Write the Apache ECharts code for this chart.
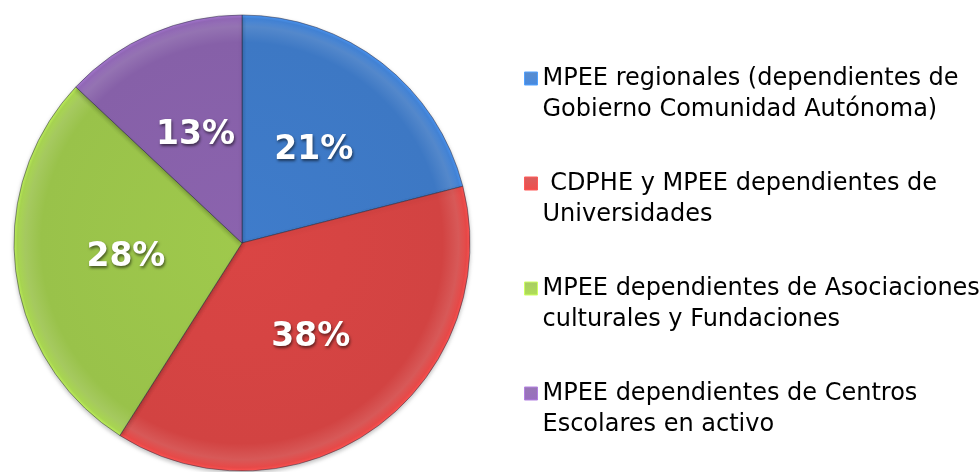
<!DOCTYPE html>
<html>
<head>
<meta charset="utf-8">
<script src="https://cdn.jsdelivr.net/npm/echarts@6/dist/echarts.min.js"></script>
<style>
  html, body { margin: 0; padding: 0; background: #fff; }
  #chart { width: 979px; height: 472px; }
</style>
</head>
<body>
<div id="chart"></div>
<script>
// datos del gráfico
var categories = [
  "MPEE regionales (dependientes de\nGobierno Comunidad Autónoma)",
  " CDPHE y MPEE dependientes de\nUniversidades",
  "MPEE dependientes de Asociaciones\nculturales y Fundaciones",
  "MPEE dependientes de Centros\nEscolares en activo"
];
var values = [21, 38, 28, 13];
var colors = ["#3d78c4", "#d24342", "#99c24a", "#8660a8"];

var chart = echarts.init(document.getElementById("chart"));

var cx = 242, cy = 243, R = 228;

// degradado global: bisel claro cerca del borde
function sliceColor(i) {
  var c = colors[i];
  return new echarts.graphic.RadialGradient(cx, cy, R, [
    { offset: 0, color: echarts.color.lift(c, -0.04) },
    { offset: 0.88, color: c },
    { offset: 0.95, color: echarts.color.lift(c, 0.12) },
    { offset: 0.985, color: echarts.color.lift(c, -0.1) },
    { offset: 1, color: echarts.color.lift(c, -0.25) }
  ], true);
}

var option = {
  animation: false,
  legend: {
    orient: "vertical",
    left: 519,
    top: 27,
    itemWidth: 13,
    itemHeight: 13,
    itemGap: 12,
    icon: "rect",
    selectedMode: false,
    data: categories.map(function (name, i) {
      return {
        name: name,
        itemStyle: {
          color: new echarts.graphic.LinearGradient(0, 0, 0, 1, [
            { offset: 0, color: echarts.color.lift(colors[i], 0.15) },
            { offset: 1, color: echarts.color.lift(colors[i], -0.15) }
          ]),
          borderColor: echarts.color.lift(colors[i], -0.35),
          borderWidth: 1
        }
      };
    }),
    // línea vacía delante para que el icono quede en la primera línea
    formatter: function (name) { return "\n" + name; },
    textStyle: {
      fontFamily: "DejaVu Sans",
      fontSize: 24,
      color: "#000",
      lineHeight: 31
    }
  },
  series: [
    {
      type: "pie",
      center: [cx, cy],
      radius: R,
      startAngle: 90,
      clockwise: true,
      avoidLabelOverlap: false,
      label: {
        position: "inside",
        formatter: "{c}%",
        color: "#fff",
        fontFamily: "DejaVu Sans",
        fontWeight: "bold",
        fontSize: 33,
        textShadowColor: "rgba(0,0,0,0.55)",
        textShadowBlur: 3,
        textShadowOffsetX: 1,
        textShadowOffsetY: 2
      },
      labelLine: { show: false },
      itemStyle: {
        borderColor: "rgba(40,40,60,0.5)",
        borderWidth: 1,
        shadowColor: "rgba(0,0,0,0.25)",
        shadowBlur: 4,
        shadowOffsetY: 2
      },
      data: values.map(function (v, i) {
        return {
          name: categories[i],
          value: v,
          itemStyle: { color: sliceColor(i) }
        };
      })
    }
  ]
};

chart.setOption(option);
</script>
</body>
</html>
